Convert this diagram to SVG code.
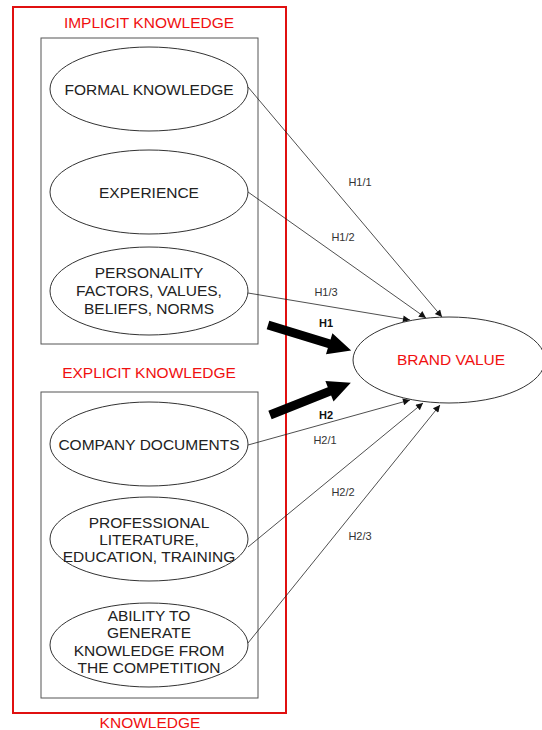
<svg xmlns="http://www.w3.org/2000/svg" width="542" height="730" viewBox="0 0 542 730">
  <defs>
    <style>
      .frame { fill: none; stroke: #e01010; stroke-width: 2; }
      .box { fill: none; stroke: #555; stroke-width: 1; }
      .node { fill: #fff; stroke: #333; stroke-width: 1; }
      .txt { font-family: "Liberation Sans", Arial, sans-serif; font-size: 15.5px; fill: #222; text-anchor: middle; }
      .red { fill: #f01010; }
      .lbl { font-family: "Liberation Sans", Arial, sans-serif; font-size: 11px; fill: #333; text-anchor: middle; }
      .bold { font-weight: bold; fill: #111; }
      .link { fill: none; stroke: #222; stroke-width: 0.8; marker-end: url(#tip); }
    </style>
    <marker id="tip" viewBox="0 0 10 10" refX="10" refY="5" markerWidth="10" markerHeight="7" markerUnits="userSpaceOnUse" orient="auto">
      <path d="M0,0 L10,5 L0,10 Z" fill="#111"/>
    </marker>
    <path id="bigArrow" d="M0,-4.5 H64 V-11 L87,0 L64,11 V4.5 H0 Z" fill="#000"/>
  </defs>

  <rect width="542" height="730" fill="#fff"/>

  <!-- outer knowledge frame and group boxes -->
  <g id="knowledge-frame">
    <rect class="frame" x="13" y="7" width="273" height="706"/>
    <text class="txt red" x="150" y="728">KNOWLEDGE</text>
  </g>
  <g id="implicit-group">
    <rect class="box" x="41" y="38" width="217" height="306"/>
    <text class="txt red" x="149" y="28">IMPLICIT KNOWLEDGE</text>
  </g>
  <g id="explicit-group">
    <rect class="box" x="41" y="392" width="217" height="306"/>
    <text class="txt red" x="149" y="378">EXPLICIT KNOWLEDGE</text>
  </g>

  <!-- connectors -->
  <g id="connectors">
    <line class="link" x1="248" y1="87" x2="442" y2="317"/>
    <line class="link" x1="248" y1="192" x2="426" y2="318"/>
    <line class="link" x1="248" y1="293" x2="410" y2="320"/>
    <line class="link" x1="248" y1="445" x2="410" y2="400"/>
    <line class="link" x1="248" y1="547" x2="423" y2="403"/>
    <line class="link" x1="248" y1="643" x2="440" y2="405"/>
    <use href="#bigArrow" transform="translate(268,325) rotate(17)"/>
    <use href="#bigArrow" transform="translate(270,415) rotate(-21.7)"/>
    <text class="lbl" x="360" y="186">H1/1</text>
    <text class="lbl" x="343" y="241">H1/2</text>
    <text class="lbl" x="326" y="296">H1/3</text>
    <text class="lbl bold" x="326" y="327">H1</text>
    <text class="lbl bold" x="326" y="419">H2</text>
    <text class="lbl" x="325" y="444">H2/1</text>
    <text class="lbl" x="343" y="496">H2/2</text>
    <text class="lbl" x="360" y="540">H2/3</text>
  </g>

  <!-- implicit knowledge nodes -->
  <g id="formal-knowledge">
    <ellipse class="node" cx="149" cy="89" rx="99" ry="42"/>
    <text class="txt" x="149" y="95">FORMAL KNOWLEDGE</text>
  </g>
  <g id="experience">
    <ellipse class="node" cx="149" cy="192" rx="99" ry="42"/>
    <text class="txt" x="149" y="198">EXPERIENCE</text>
  </g>
  <g id="personality">
    <ellipse class="node" cx="149" cy="291" rx="99" ry="44"/>
    <text class="txt" x="149" y="278">PERSONALITY</text>
    <text class="txt" x="149" y="296">FACTORS, VALUES,</text>
    <text class="txt" x="149" y="314">BELIEFS, NORMS</text>
  </g>

  <!-- explicit knowledge nodes -->
  <g id="company-documents">
    <ellipse class="node" cx="149" cy="444" rx="99" ry="42"/>
    <text class="txt" x="149" y="450">COMPANY DOCUMENTS</text>
  </g>
  <g id="professional-literature">
    <ellipse class="node" cx="149" cy="539" rx="99" ry="42"/>
    <text class="txt" x="149" y="528">PROFESSIONAL</text>
    <text class="txt" x="149" y="545">LITERATURE,</text>
    <text class="txt" x="149" y="562">EDUCATION, TRAINING</text>
  </g>
  <g id="competition-knowledge">
    <ellipse class="node" cx="149" cy="645" rx="99" ry="42"/>
    <text class="txt" x="149" y="621">ABILITY TO</text>
    <text class="txt" x="149" y="638">GENERATE</text>
    <text class="txt" x="149" y="656">KNOWLEDGE FROM</text>
    <text class="txt" x="149" y="673">THE COMPETITION</text>
  </g>

  <!-- outcome -->
  <g id="brand-value">
    <ellipse class="node" cx="449" cy="360" rx="96" ry="43"/>
    <text class="txt red" x="451" y="365">BRAND VALUE</text>
  </g>
</svg>
